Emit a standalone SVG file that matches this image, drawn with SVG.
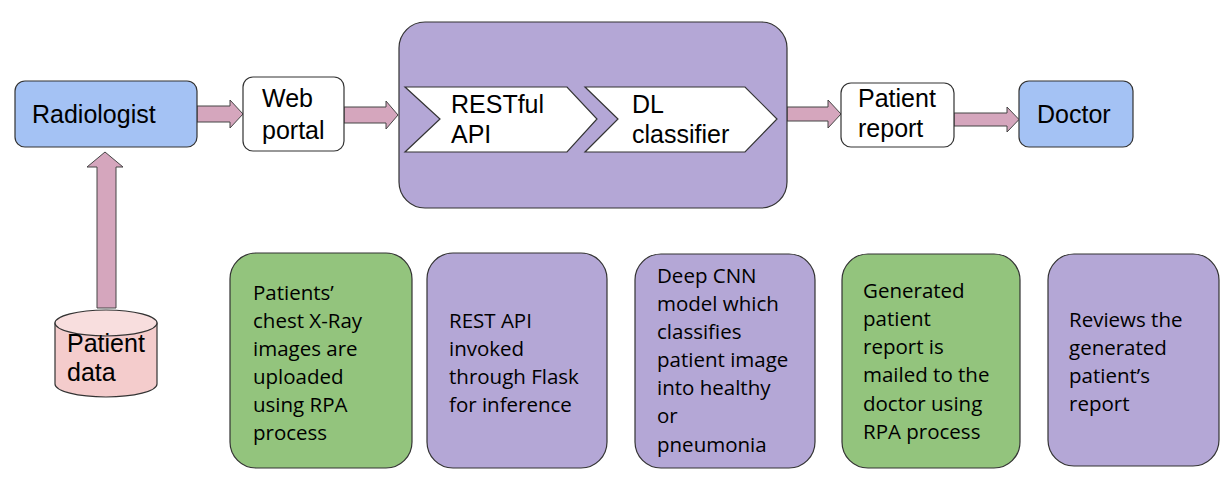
<svg xmlns="http://www.w3.org/2000/svg" width="1226" height="483" viewBox="0 0 1226 483">
<style>
.bd{stroke:#333;stroke-width:1.2}
.blue{fill:#a4c2f4}
.purple{fill:#b4a7d6}
.green{fill:#93c47d}
.white{fill:#fff}
.arr{fill:#d5a6bd;stroke:#444;stroke-width:1}
.t{font-family:"Liberation Sans",Arial,sans-serif;font-size:25px;fill:#000}
.c{font-family:"Open Sans","Noto Sans",sans-serif;font-size:20.5px;fill:#000}
</style>
<rect width="1226" height="483" fill="#fff"/>
<g id="connectors">
<polygon class="arr" points="197,106 230,106 230,100 243,114 230,128 230,122 197,122"/>
<polygon class="arr" points="344,107 386,107 386,101 398,115 386,129 386,123 344,123"/>
<polygon class="arr" points="787,107 828,107 828,100 841,114 828,128 828,121 787,121"/>
<polygon class="arr" points="954,113 1007,113 1007,107 1019,119.5 1007,132 1007,126 954,126"/>
<polygon class="arr" points="97,308 97,167 87,167 105,152 123,167 116,167 116,308"/>
</g>
<g id="radiologist">
<rect class="bd blue" x="15" y="81" width="182" height="66" rx="10"/>
<text class="t" x="32" y="123">Radiologist</text>
</g>
<g id="webportal">
<rect class="bd white" x="243" y="77" width="101" height="74" rx="10"/>
<text class="t" x="262" y="107">Web</text>
<text class="t" x="262" y="139">portal</text>
</g>
<g id="backend">
<rect class="bd purple" x="399" y="22" width="388" height="186" rx="26"/>
</g>
<g id="restful">
<polygon class="bd white" points="405,87 567,87 597,119 567,152 405,152 440,119"/>
<text class="t" x="451" y="113">RESTful</text>
<text class="t" x="451" y="143">API</text>
</g>
<g id="dlclassifier">
<polygon class="bd white" points="585,87 745,87 777,119 745,152 585,152 618,119"/>
<text class="t" x="632" y="113">DL</text>
<text class="t" x="632" y="143">classifier</text>
</g>
<g id="patientreport">
<rect class="bd white" x="841" y="83" width="113" height="64" rx="10"/>
<text class="t" x="858" y="107">Patient</text>
<text class="t" x="858" y="137">report</text>
</g>
<g id="doctor">
<rect class="bd blue" x="1019" y="81" width="114" height="66" rx="10"/>
<text class="t" x="1037" y="123">Doctor</text>
</g>
<g id="patientdata">
<path class="bd" fill="#f4cccc" d="M55,323 L55,384 A51,13 0 0 0 157,384 L157,323 Z"/>
<ellipse class="bd" fill="#f8dede" cx="106" cy="323" rx="51" ry="13"/>
<text class="t" x="67" y="352">Patient</text>
<text class="t" x="67" y="381">data</text>
</g>
<g id="note1">
<rect class="bd green" x="230" y="253" width="182" height="215" rx="26"/>
<text class="c" x="253" y="300">Patients’</text>
<text class="c" x="253" y="328">chest X-Ray</text>
<text class="c" x="253" y="356">images are</text>
<text class="c" x="253" y="384">uploaded</text>
<text class="c" x="253" y="412">using RPA</text>
<text class="c" x="253" y="440">process</text>
</g>
<g id="note2">
<rect class="bd purple" x="427" y="253" width="180" height="215" rx="26"/>
<text class="c" x="449" y="328">REST API</text>
<text class="c" x="449" y="356">invoked</text>
<text class="c" x="449" y="384">through Flask</text>
<text class="c" x="449" y="412">for inference</text>
</g>
<g id="note3">
<rect class="bd purple" x="635" y="254" width="180" height="214" rx="26"/>
<text class="c" x="657" y="283">Deep CNN</text>
<text class="c" x="657" y="311">model which</text>
<text class="c" x="657" y="339">classifies</text>
<text class="c" x="657" y="367">patient image</text>
<text class="c" x="657" y="395">into healthy</text>
<text class="c" x="657" y="423">or</text>
<text class="c" x="657" y="452">pneumonia</text>
</g>
<g id="note4">
<rect class="bd green" x="842" y="254" width="178" height="214" rx="26"/>
<text class="c" x="863" y="298">Generated</text>
<text class="c" x="863" y="326">patient</text>
<text class="c" x="863" y="354">report is</text>
<text class="c" x="863" y="382">mailed to the</text>
<text class="c" x="863" y="411">doctor using</text>
<text class="c" x="863" y="439">RPA process</text>
</g>
<g id="note5">
<rect class="bd purple" x="1048" y="254" width="171" height="212" rx="26"/>
<text class="c" x="1069" y="327">Reviews the</text>
<text class="c" x="1069" y="355">generated</text>
<text class="c" x="1069" y="383">patient’s</text>
<text class="c" x="1069" y="411">report</text>
</g>
</svg>
